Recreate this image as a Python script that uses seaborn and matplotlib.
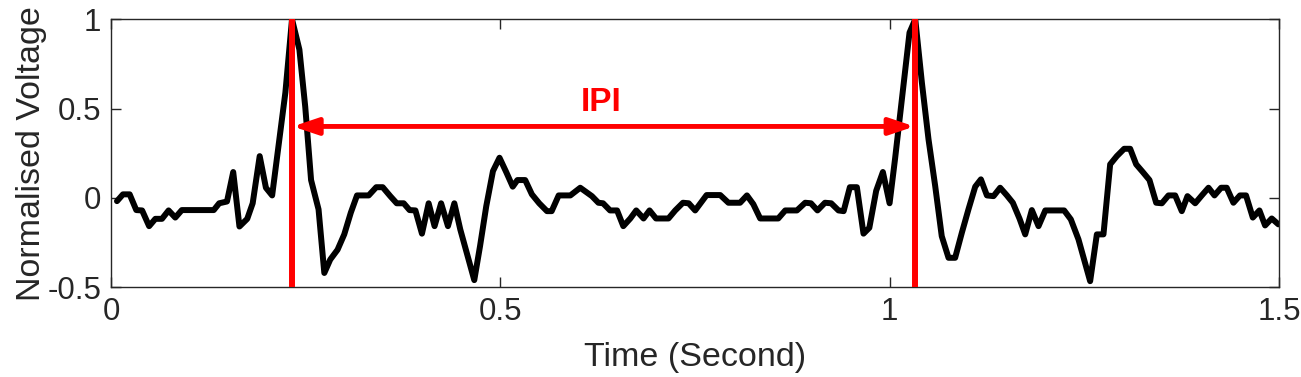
import numpy as np
import pandas as pd
import seaborn as sns
import matplotlib
matplotlib.use("Agg")
import matplotlib.pyplot as plt
from matplotlib.patches import FancyArrowPatch

# ---- data ----
time_s = [
    0.0077, 0.0154, 0.024, 0.0325, 0.040, 0.049, 0.057, 0.0655, 0.074, 0.0826,
    0.091, 0.132, 0.139, 0.149, 0.157, 0.165, 0.175, 0.182, 0.191, 0.199,
    0.207, 0.2145, 0.224, 0.2325, 0.242, 0.2495, 0.257, 0.2666, 0.274, 0.2816,
    0.291, 0.2996, 0.308, 0.316, 0.331, 0.3407, 0.349, 0.3587, 0.367, 0.376,
    0.3835, 0.391, 0.3994, 0.408, 0.4156, 0.424, 0.4328, 0.441, 0.4486, 0.4666,
    0.474, 0.482, 0.4906, 0.499, 0.5076, 0.516, 0.522, 0.532, 0.5406, 0.550,
    0.56, 0.566, 0.575, 0.590, 0.6027, 0.6177, 0.626, 0.632, 0.641, 0.65,
    0.658, 0.667, 0.6746, 0.684, 0.6917, 0.700, 0.716, 0.7247, 0.7346, 0.742,
    0.7503, 0.765, 0.7825, 0.793, 0.808, 0.8168, 0.825, 0.8338, 0.857, 0.866,
    0.881, 0.8916, 0.899, 0.9074, 0.917, 0.925, 0.9344, 0.941, 0.949, 0.958,
    0.9665, 0.974, 0.9828, 0.9914, 1.000, 1.0072, 1.0158, 1.0256, 1.033, 1.0415,
    1.05, 1.0586, 1.067, 1.0757, 1.0842, 1.0928, 1.1013, 1.110, 1.1173, 1.125,
    1.1335, 1.142, 1.1507, 1.1583, 1.167, 1.1742, 1.1827, 1.1913, 1.2, 1.2242,
    1.2328, 1.2426, 1.2576, 1.2662, 1.2747, 1.2833, 1.2919, 1.3013, 1.309, 1.3167,
    1.3252, 1.3338, 1.3424, 1.3497, 1.3582, 1.3668, 1.3753, 1.3826, 1.3925, 1.401,
    1.4096, 1.4173, 1.4258, 1.433, 1.4416, 1.450, 1.4578, 1.4665, 1.475, 1.4823,
    1.4908, 1.4994,
]
voltage = [
    -0.018, 0.02, 0.02, -0.068, -0.07, -0.158, -0.117, -0.117, -0.07, -0.11,
    -0.068, -0.068, -0.03, -0.02, 0.145, -0.16, -0.117, -0.03, 0.234, 0.057,
    0.014, 0.27, 0.59, 1.0, 0.83, 0.51, 0.10, -0.064, -0.42, -0.345,
    -0.29, -0.204, -0.083, 0.014, 0.014, 0.06, 0.06, 0.01, -0.03, -0.03,
    -0.068, -0.07, -0.2, -0.03, -0.158, -0.03, -0.158, -0.03, -0.176, -0.46,
    -0.27, -0.046, 0.15, 0.225, 0.145, 0.063, 0.1, 0.1, 0.02, -0.03,
    -0.074, -0.074, 0.014, 0.014, 0.057, 0.01, -0.027, -0.03, -0.07, -0.07,
    -0.158, -0.115, -0.07, -0.115, -0.07, -0.115, -0.115, -0.07, -0.027, -0.03,
    -0.07, 0.016, 0.016, -0.027, -0.027, 0.014, -0.035, -0.115, -0.115, -0.07,
    -0.07, -0.027, -0.03, -0.07, -0.027, -0.03, -0.07, -0.074, 0.06, 0.06,
    -0.2, -0.167, 0.04, 0.145, -0.03, 0.225, 0.55, 0.925, 1.0, 0.645,
    0.328, 0.066, -0.214, -0.335, -0.335, -0.195, -0.064, 0.063, 0.104, 0.014,
    0.01, 0.057, 0.014, -0.027, -0.117, -0.204, -0.068, -0.158, -0.07, -0.07,
    -0.12, -0.232, -0.466, -0.204, -0.204, 0.188, 0.234, 0.275, 0.275, 0.188,
    0.145, 0.1, -0.027, -0.03, 0.014, 0.014, -0.074, 0.01, -0.03, 0.014,
    0.057, 0.014, 0.057, 0.057, -0.027, 0.014, 0.014, -0.11, -0.07, -0.154,
    -0.115, -0.148,
]
peak_times = [0.2325, 1.033]
ipi_level = 0.40
ipi_label = "IPI"
x_ticks = [0, 0.5, 1, 1.5]
x_tick_labels = ["0", "0.5", "1", "1.5"]
y_ticks = [-0.5, 0, 0.5, 1]
y_tick_labels = ["-0.5", "0", "0.5", "1"]

df = pd.DataFrame({"Time": time_s, "Voltage": voltage})

sns.set_style("white")
plt.rcParams["font.family"] = ["Liberation Sans", "DejaVu Sans"]

fig = plt.figure(figsize=(13.01, 3.77), dpi=100)
ax = fig.add_axes([0.0853, 0.238, 0.8977, 0.711])

sns.lineplot(data=df, x="Time", y="Voltage", color="black", linewidth=4.3,
             ax=ax, sort=False, estimator=None)
for ln in ax.get_lines():
    ln.set_solid_joinstyle("round")
    ln.set_solid_capstyle("round")

for pt in peak_times:
    ax.axvline(pt, color="#ff0000", linewidth=4.3, zorder=3)

arrow = FancyArrowPatch((peak_times[0] + 0.001, ipi_level),
                        (peak_times[1] - 0.001, ipi_level),
                        arrowstyle="<|-|>,head_length=1.25,head_width=0.42",
                        color="#ff0000", linewidth=3.5, mutation_scale=12,
                        shrinkA=0, shrinkB=0, zorder=4)
ax.add_patch(arrow)
ax.text(sum(peak_times) / 2 - 0.003, 0.535, ipi_label, color="#ff0000",
        fontsize=24, fontweight="bold", ha="center", va="center")

ax.set_xlim(0, 1.5)
ax.set_ylim(-0.5, 1)
ax.set_xticks(x_ticks)
ax.set_xticklabels(x_tick_labels)
ax.set_yticks(y_ticks)
ax.set_yticklabels(y_tick_labels)
ax.tick_params(axis="both", direction="in", length=7, width=1,
               labelsize=22.5, colors="#262626", top=True, right=True,
               bottom=True, left=True, pad=7)
for sp in ax.spines.values():
    sp.set_visible(True)
    sp.set_color("#262626")
    sp.set_linewidth(1.0)

ax.set_xlabel("Time (Second)", fontsize=24.5, color="#262626", labelpad=11)
ax.set_ylabel("Normalised Voltage", fontsize=24.5, color="#262626", labelpad=0)

fig.savefig("out.png", dpi=100)
